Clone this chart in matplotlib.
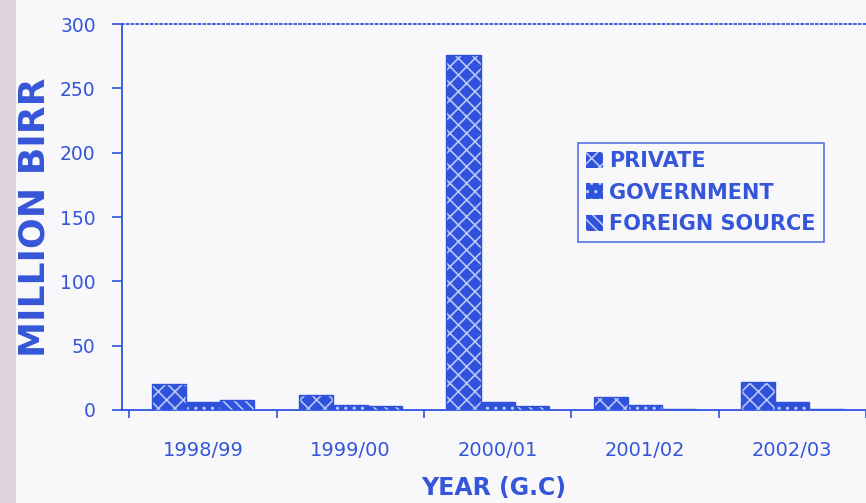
import numpy as np
import matplotlib.pyplot as plt
from matplotlib.patches import Rectangle

# values (million birr)
years = ["1998/99", "1999/00", "2000/01", "2001/02", "2002/03"]
private = [20, 12, 276, 10, 22]
government = [6, 4, 6, 4, 6]
foreign = [8, 3, 3, 1, 1]
series_names = ["PRIVATE", "GOVERNMENT", "FOREIGN SOURCE"]

blue = "#2f52dc"
text_blue = "#3556d8"
hatch_light = "#b9c8f6"

plt.rcParams["hatch.linewidth"] = 1.2

fig = plt.figure(figsize=(8.66, 5.03), dpi=100)
fig.patch.set_facecolor("#f8f8fb")
fig.patches.append(Rectangle((0, 0), 0.018, 1, transform=fig.transFigure,
                             facecolor="#ddd3dc", edgecolor="none", zorder=0))

ax = fig.add_axes([0.141, 0.185, 0.859, 0.767])
ax.set_facecolor("none")

x = np.arange(len(years))
w = 0.232
hatches = ["\\/\\/", "..", "\\\\\\"]
for i, (vals, h) in enumerate(zip([private, government, foreign], hatches)):
    ax.bar(x + (i - 1) * w, vals, w, color=blue, edgecolor=hatch_light,
           hatch=h, linewidth=0, label=series_names[i], zorder=3)
    ax.bar(x + (i - 1) * w, vals, w, facecolor="none", edgecolor=blue,
           linewidth=1.0, zorder=4)

ax.set_xlim(-0.55, 4.44)
ax.set_ylim(0, 300)
ax.set_yticks(np.arange(0, 301, 50))
ax.set_xticks(np.arange(-0.5, 5, 1))
ax.set_xticklabels([])
ax.set_xticks(x, minor=True)
ax.set_xticklabels(years, minor=True)

ax.tick_params(axis="y", colors=blue, labelcolor=text_blue, labelsize=13.5,
               length=7, width=1.2, pad=12)
ax.tick_params(axis="x", which="major", colors=blue, length=6, width=1.2,
               direction="out")
ax.tick_params(axis="x", which="minor", length=0, labelcolor=text_blue,
               labelsize=14, pad=22)

ax.spines["right"].set_visible(False)
ax.spines["top"].set_linestyle(":")
for s in ["left", "bottom", "top"]:
    ax.spines[s].set_color(blue)
    ax.spines[s].set_linewidth(1.3)

ax.set_ylabel("MILLION BIRR", fontsize=26, fontweight="bold", color=text_blue,
              labelpad=6)
ax.set_xlabel("YEAR (G.C)", fontsize=17, fontweight="bold", color=text_blue,
              labelpad=12)

leg = ax.legend(loc="upper left", bbox_to_anchor=(0.667, 0.716),
                bbox_transform=fig.transFigure, borderaxespad=0,
                fancybox=False, frameon=True, handlelength=0.8,
                handleheight=0.8, handletextpad=0.3, labelspacing=0.55,
                borderpad=0.4,
                prop={"size": 15, "weight": "bold"})
leg.get_frame().set_edgecolor(blue)
leg.get_frame().set_facecolor("#f8f8fb")
leg.get_frame().set_linewidth(1.2)
for t in leg.get_texts():
    t.set_color(text_blue)

fig.savefig("out.png", dpi=100, facecolor=fig.get_facecolor())
